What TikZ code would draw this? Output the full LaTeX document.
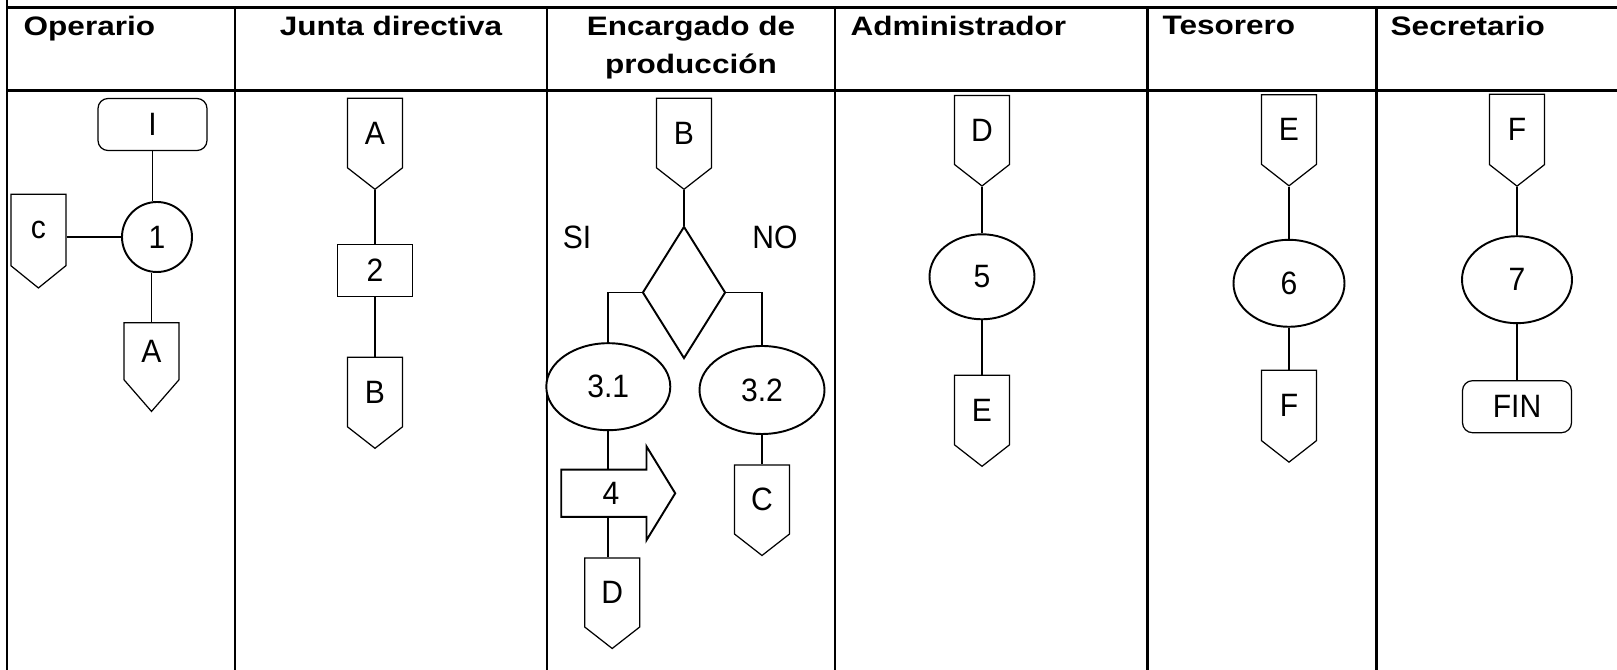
\documentclass[tikz,border=0pt]{standalone}
\usepackage{fontspec}
\setmainfont{Liberation Sans}
\newfontfamily\hdfont[FakeStretch=1.18]{Liberation Sans}
\newfontfamily\bdfont[FakeStretch=0.93]{Liberation Sans}
\usetikzlibrary{shapes.geometric, shapes.symbols, shapes.arrows, backgrounds}

\begin{document}
\begin{tikzpicture}[x=0.1mm, y=-0.1mm,
    lane/.style={line width=0.85pt},
    header/.style={font=\hdfont\bfseries\fontsize{7.6}{10.9}\selectfont, inner sep=0pt},
    body/.style={font=\bdfont\fontsize{9.2}{11}\selectfont},
    offpage/.style={body, signal, signal to=south, draw, line width=0.35pt, fill=white, inner sep=0pt, minimum width=5.5mm, minimum height=7.75mm, signal pointer angle=104},
    term/.style={body, rectangle, rounded corners=1mm, draw, line width=0.35pt, fill=white, minimum width=10.9mm, minimum height=5.2mm},
    proc/.style={body, ellipse, draw, line width=0.55pt, fill=white, inner sep=0pt},
    link/.style={line width=0.55pt}
]
    \useasboundingbox (0,0) rectangle (1617,670);

    % Table
    \draw[lane] (7,0) -- (7,670);
    \draw[lane] (7,7.6) -- (1617,7.6);
    \draw[lane] (7,91) -- (1617,91);
    \foreach \x in {235,547,835,1147,1376}
        \draw[lane] (\x,7.6) -- (\x,670);

    % Headers
    \node[header, anchor=north west] (hop) at (23,15) {Operario};
    \node[header, anchor=north] (hjd) at (391,15) {Junta directiva};
    \node[header, anchor=north, align=center] (hep) at (691,15) {Encargado de\\producción};
    \node[header, anchor=north west] (had) at (850,15) {Administrador};
    \node[header, anchor=north west] (hte) at (1162,15) {Tesorero};
    \node[header, anchor=north west] (hse) at (1390,15) {Secretario};

    % Operario
    \node[term] (ini) at (152.5,124.5) {I};
    \node[proc, circle, minimum size=7mm] (c1) at (157,237) {1};
    \node[offpage, signal pointer angle=102] (offc) at (38.4,230) {c};
    \node[offpage, minimum height=6.85mm, signal pointer angle=82] (offa) at (151.5,351.3) {A};

    % Junta directiva
    \node[offpage] (ja) at (375,133) {A};
    \node[body, draw, line width=0.55pt, minimum width=7.5mm, minimum height=5.2mm] (p2) at (375,270.5) {2};
    \node[offpage] (jb) at (375,392) {B};

    % Encargado de produccion
    \node[offpage] (eb) at (684,133) {B};
    \node[diamond, draw, line width=0.55pt, inner sep=0pt, minimum width=8.3mm, minimum height=13.2mm] (dia) at (684,292.5) {};
    \node[body] (si) at (577,237) {SI};
    \node[body] (no) at (775,237) {NO};
    \node[proc, minimum width=12.4mm, minimum height=8.7mm] (e31) at (608.3,386.7) {3.1};
    \node[proc, minimum width=12.5mm, minimum height=8.8mm] (e32) at (762,390) {3.2};
    \node[body, single arrow, draw, line width=0.55pt, fill=white, inner xsep=0pt, inner ysep=1.15mm, minimum height=11.4mm, minimum width=9.27mm, single arrow head extend=2.33mm, single arrow tip angle=117] (arr) at (611,493.3) {4};
    \node[offpage] (ed) at (612.2,592.5) {D};
    \node[offpage] (ec) at (762,499.5) {C};

    % Administrador
    \node[offpage] (ad) at (982,130) {D};
    \node[proc, minimum width=10.5mm, minimum height=8.5mm] (p5) at (982,276.8) {5};
    \node[offpage] (ae) at (982,410) {E};

    % Tesorero
    \node[offpage] (te) at (1289,129.5) {E};
    \node[proc, minimum width=11.1mm, minimum height=8.7mm] (p6) at (1289,283.3) {6};
    \node[offpage] (tf) at (1289,405.5) {F};

    % Secretario
    \node[offpage] (sf) at (1517,129.5) {F};
    \node[proc, minimum width=11mm, minimum height=8.7mm] (p7) at (1517,279.7) {7};
    \node[term] (fin) at (1517,406.7) {FIN};

    % Connectors
    \begin{scope}[on background layer]
        \draw[link] (ini.south) -- (ini.south |- c1.north);
        \draw[link] (offc.east |- c1.west) -- (c1.west);
        \draw[link] (offa.north |- c1.south) -- (offa.north);
        \draw[link] (ja.south) -- (p2.north);
        \draw[link] (p2.south) -- (jb.north);
        \draw[link] (eb.south) -- (dia.north);
        \draw[link] (dia.west) -| (e31.north);
        \draw[link] (dia.east) -| (e32.north);
        \draw[link] (e31.south) -- (e31.south |- ed.north);
        \draw[link] (e32.south) -- (ec.north);
        \draw[link] (ad.south) -- (p5.north);
        \draw[link] (p5.south) -- (ae.north);
        \draw[link] (te.south) -- (p6.north);
        \draw[link] (p6.south) -- (tf.north);
        \draw[link] (sf.south) -- (p7.north);
        \draw[link] (p7.south) -- (fin.north);
    \end{scope}
\end{tikzpicture}
\end{document}
